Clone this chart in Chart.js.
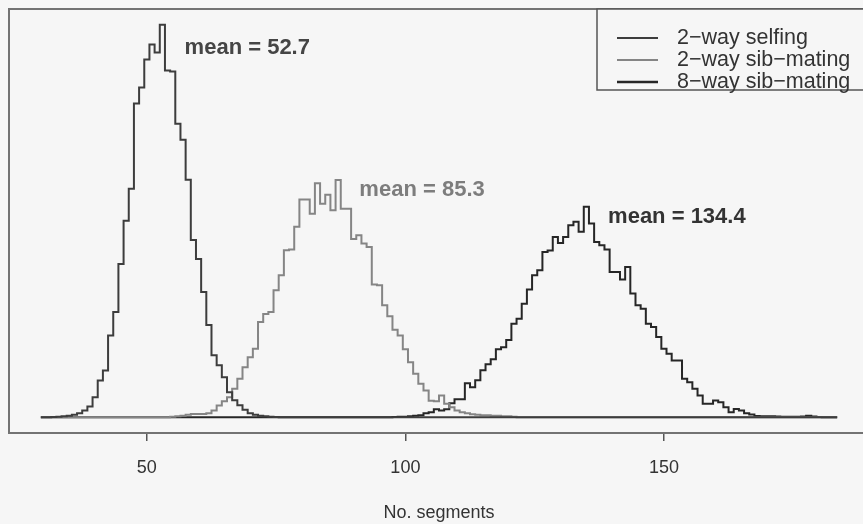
<!DOCTYPE html>
<html>
<head>
<meta charset="utf-8">
<script src="https://cdn.jsdelivr.net/npm/chart.js@4.4.1/dist/chart.umd.min.js"></script>
<style>
  html, body { margin: 0; padding: 0; background: #f6f6f6; overflow: hidden; }
  /* plot region runs a few px past the right edge, like the cropped original */
  #wrap { width: 872px; height: 524px; }
</style>
</head>
<body>
<div id="wrap"><canvas id="hist"></canvas></div>
<script>
// bins are 1 segment wide, centred on whole numbers
const firstBin = 30;
const lastBin = 183;

const seriesNames = ["2\u2212way selfing", "2\u2212way sib\u2212mating", "8\u2212way sib\u2212mating"];
const means = [52.7, 85.3, 134.4];
const xTicks = [50, 100, 150];

// frequencies (relative units)
const selfingFrom = 32;
const selfing = [0.3, 0.5, 1, 1.5, 2.5, 4, 6.7, 10.7, 20, 36.7, 46.7, 81.7, 105, 153, 196, 228, 313, 329, 357, 372,
  364, 391.7, 346, 345, 293, 277, 237, 177, 158, 125, 92, 62, 52, 40, 25, 17, 12, 7.5, 4, 2.5, 1.5, 1, 0.5, 0.3];

const sib2From = 55;
const sib2 = [0.5, 1, 1.5, 2.5, 3.4, 3.4, 3.4, 4, 6.7, 11.7, 16, 20, 28.4, 38.4, 50, 60, 68.4, 95, 103, 105,
  126.7, 141.7, 166.7, 167.4, 190, 217.4, 217.4, 203, 233.4, 213, 222, 206.7, 236.7, 208, 208, 178, 181.7, 173.4, 170, 132.5,
  131.7, 111.7, 100.8, 87.4, 81.7, 68, 55, 43.4, 33.4, 26.7, 16.4, 16, 21.7, 13.4, 10, 6.7, 5, 4, 3, 2.5,
  2, 2, 1.5, 1.5, 1, 1, 0.5];

const sib8From = 98;
const sib8 = [0.3, 0.5, 0.5, 1, 1.5, 2, 4, 5, 8, 6.7, 8, 14, 18, 18, 34, 30, 37, 47, 53, 58,
  68, 70, 77, 93.4, 98.4, 113.4, 127.5, 141.7, 146.7, 165, 166.5, 180, 174, 180, 191.7, 195, 185, 210, 193.4, 175,
  171.7, 167.5, 145, 145, 137.4, 150, 123.4, 111.7, 108.4, 93.4, 90, 80, 68.4, 63.4, 56.7, 56.7, 38.4, 35, 28.4, 21.7,
  13.4, 13.4, 16.7, 15, 10, 5, 8.4, 6.7, 4, 2.7, 1.4, 1, 1, 1, 0.7, 0.5, 0.5, 0.5, 0.5, 0.7,
  1.5, 0.7, 0.3];

// where the "mean = ..." notes sit, in data units
const labelX = [57.3, 91.1, 139.2];
const labelY = [369, 227, 200];

const lineColors = ["#3d3d3d", "#858585", "#262626"];
const textColors = ["#454545", "#7d7d7d", "#333333"];
const FONT = "'Liberation Sans', Arial, Helvetica, sans-serif";

// left bin edges + closing edge, drawn as steps
const toSteps = (values, from) => {
  const pts = [];
  for (let k = firstBin; k <= lastBin; k++) {
    const v = values[k - from];
    pts.push({ x: k - 0.5, y: v === undefined ? 0 : v });
  }
  pts.push({ x: lastBin + 0.5, y: pts[pts.length - 1].y });
  return pts;
};

const allSeries = [toSteps(selfing, selfingFrom), toSteps(sib2, sib2From), toSteps(sib8, sib8From)];
const yTop = Math.max(...selfing, ...sib2, ...sib8);
const xSpan = lastBin - firstBin + 1;

const extras = {
  id: "extras",
  beforeDraw(chart) {
    const ctx = chart.ctx;
    ctx.save();
    ctx.fillStyle = "#f6f6f6";
    ctx.fillRect(0, 0, chart.width, chart.height);
    ctx.restore();
  },
  afterDraw(chart) {
    const ctx = chart.ctx;
    const a = chart.chartArea;
    const xs = chart.scales.x;
    const ys = chart.scales.y;
    ctx.save();

    // plot frame
    ctx.strokeStyle = "#737373";
    ctx.lineWidth = 2;
    ctx.strokeRect(a.left, a.top, a.right - a.left, a.bottom - a.top);

    // mean notes
    ctx.font = "bold 22px " + FONT;
    ctx.textBaseline = "middle";
    ctx.textAlign = "left";
    means.forEach((m, i) => {
      ctx.fillStyle = textColors[i];
      ctx.fillText("mean = " + m, xs.getPixelForValue(labelX[i]), ys.getPixelForValue(labelY[i]));
    });

    // legend, top right corner of the frame
    const boxL = a.right - 272;
    const boxT = a.top;
    ctx.fillStyle = "#f6f6f6";
    ctx.fillRect(boxL, boxT, a.right - boxL, 81);
    ctx.strokeStyle = "#555";
    ctx.lineWidth = 1.5;
    ctx.strokeRect(boxL, boxT, a.right - boxL, 81);
    ctx.font = "21.5px " + FONT;
    seriesNames.forEach((name, i) => {
      const y = boxT + 29 + i * 22;
      ctx.strokeStyle = lineColors[i];
      ctx.lineWidth = i === 2 ? 2.6 : 2;
      ctx.beginPath();
      ctx.moveTo(boxL + 20, y);
      ctx.lineTo(boxL + 61, y);
      ctx.stroke();
      ctx.fillStyle = "#333";
      ctx.fillText(name, boxL + 80, y);
    });
    ctx.restore();
  },
};

window.onload = function () {
  const ctx = document.getElementById("hist").getContext("2d");
  new Chart(ctx, {
    type: "line",
    data: {
      datasets: allSeries.map((pts, i) => ({
        label: seriesNames[i],
        data: pts,
        borderColor: lineColors[i],
        borderWidth: 2,
        pointRadius: 0,
        stepped: "before",
        fill: false,
      })),
    },
    options: {
      responsive: true,
      maintainAspectRatio: false,
      animation: false,
      layout: { padding: { left: 9, top: 9, right: 3, bottom: 0 } },
      plugins: { legend: { display: false }, tooltip: { enabled: false } },
      scales: {
        x: {
          type: "linear",
          // 4% padding either side of the data range
          min: firstBin - 0.5 - 0.04 * xSpan,
          max: lastBin + 0.5 + 0.04 * xSpan,
          afterBuildTicks: (s) => {
            s.ticks = xTicks.map((v) => ({ value: v }));
          },
          afterFit: (s) => {
            s.height = 91;
          },
          border: { display: false },
          grid: { drawOnChartArea: false, drawTicks: true, tickLength: 8, color: "#555", lineWidth: 1.5 },
          ticks: { color: "#333", font: { family: FONT, size: 18 }, padding: 16, maxRotation: 0 },
          title: {
            display: true,
            text: "No. segments",
            color: "#333",
            font: { family: FONT, size: 18 },
            padding: { top: 0, bottom: 0 },
          },
        },
        y: {
          display: false,
          min: -0.04 * yTop,
          max: 1.04 * yTop,
        },
      },
    },
    plugins: [extras],
  });
};
</script>
</body>
</html>
